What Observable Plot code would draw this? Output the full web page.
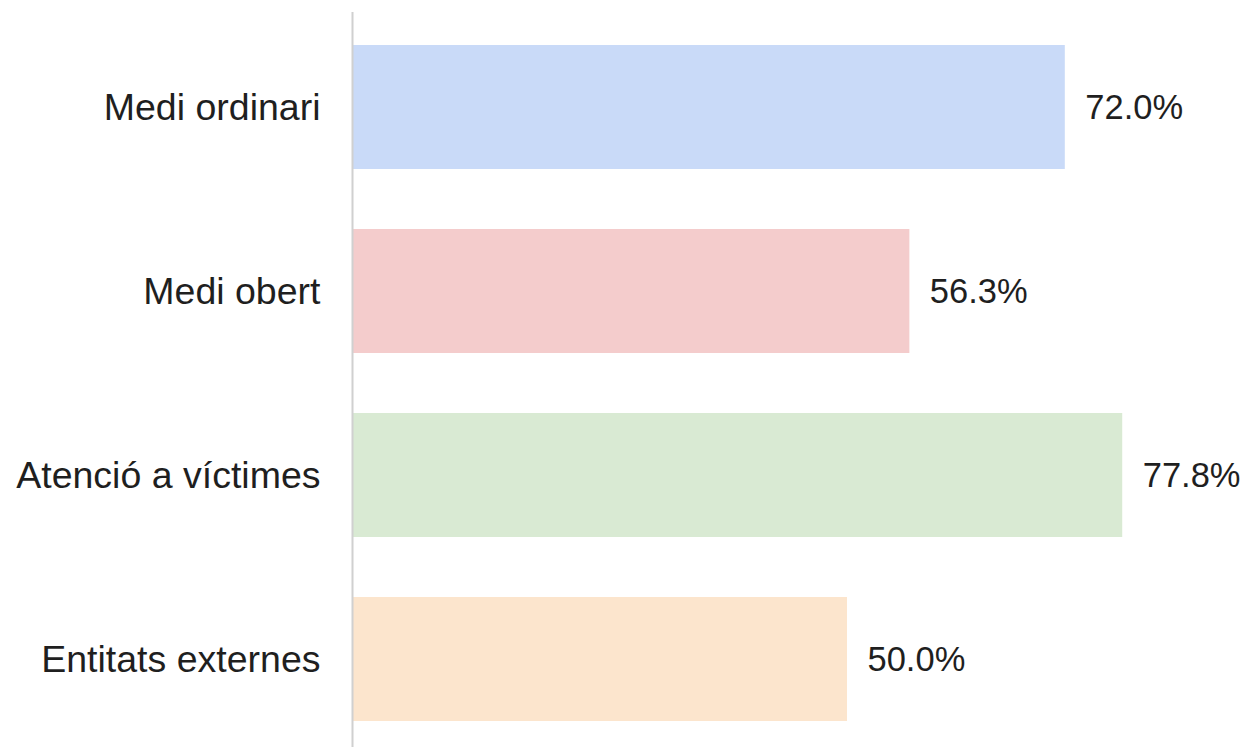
<!DOCTYPE html>
<html>
<head>
<meta charset="utf-8">
<script src="https://cdn.jsdelivr.net/npm/d3@7"></script>
<script src="https://cdn.jsdelivr.net/npm/@observablehq/plot@0.6"></script>
<style>
  html, body { margin: 0; padding: 0; background: #fff; }
  #chart svg { display: block; }
</style>
</head>
<body>
<div id="chart"></div>
<script>
const categories = ["Medi ordinari", "Medi obert", "Atenció a víctimes", "Entitats externes"];
const values = [72.0, 56.3, 77.8, 50.0];
const valueLabels = ["72.0%", "56.3%", "77.8%", "50.0%"];
const colors = ["#c9daf8", "#f4cccc", "#d9ead3", "#fce5cd"];

const data = categories.map((c, i) => ({category: c, value: values[i], label: valueLabels[i], color: colors[i]}));

const chart = Plot.plot({
  width: 1245,
  height: 747,
  marginLeft: 352,
  marginRight: 2,
  marginTop: 12,
  marginBottom: 0,
  style: {fontFamily: "'Liberation Sans', Arial, sans-serif", background: "#fff", overflow: "visible"},
  x: {domain: [0, 90], axis: null},
  y: {domain: categories, paddingInner: 0.327, paddingOuter: 0.157, align: 0.55, label: null},
  marks: [
    Plot.barX(data, {x: "value", y: "category", fill: "color"}),
    Plot.ruleX([0], {stroke: "#d0d0d0", strokeWidth: 2}),
    Plot.axisY({tickSize: 0, tickPadding: 32, fontSize: 37.5, label: null, color: "#1f1f1f"}),
    Plot.text(data, {x: "value", y: "category", text: "label", textAnchor: "start", dx: 20, fontSize: 34.5, fill: "#1f1f1f"})
  ]
});
document.getElementById("chart").appendChild(chart);
</script>
</body>
</html>
